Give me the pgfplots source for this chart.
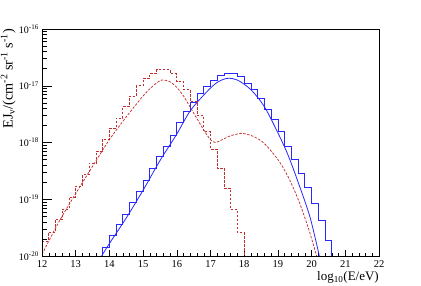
\documentclass[border=0pt]{standalone}
\usepackage{fontspec}
\setmainfont{Liberation Serif}
\usepackage{pgfplots}
\pgfplotsset{compat=1.18}
\definecolor{rblue}{RGB}{40,40,255}
\definecolor{rred}{RGB}{195,45,45}
\begin{document}
\begin{tikzpicture}
\path[use as bounding box] (0,0) rectangle (421pt,286pt);
\begin{axis}[
  at={(42pt,30pt)}, anchor=south west,
  scale only axis, width=337pt, height=227pt,
  xmin=12, xmax=22, ymode=log, log basis y=10,
  ymin=1e-20, ymax=1e-16,
  tick pos=left, tick align=inside,
  axis line style={line width=0.5pt},
  every tick/.style={black, line width=0.45pt},
  /pgf/number format/assume math mode=true,
  xtick={12,13,...,22}, minor x tick num=4,
  ytick=\empty,
  major tick length=6pt, minor tick length=3pt,
  xticklabel style={font=\fontsize{10.5}{12}\selectfont, inner sep=0pt, yshift=-4.5pt},
  xlabel={log\textsubscript{10}(E/eV)},
  xlabel style={at={(axis description cs:1,0)}, anchor=north east, inner sep=0pt, yshift=-15pt, font=\fontsize{13}{15}\selectfont},
]
% blue histogram
\addplot[rblue, const plot mark left, line width=0.8pt] coordinates {
(12.0,1e-20) (13.8,1.41e-20) (14.0,2.34e-20) (14.2,3.55e-20) (14.4,5.50e-20)
(14.6,8.91e-20) (14.8,1.35e-19) (15.0,2.19e-19) (15.2,3.55e-19) (15.4,5.62e-19)
(15.6,8.51e-19) (15.8,1.35e-18) (16.0,2.24e-18) (16.2,3.55e-18) (16.4,5.13e-18)
(16.6,7.24e-18) (16.8,9.55e-18) (17.0,1.26e-17) (17.2,1.55e-17) (17.4,1.66e-17)
(17.6,1.66e-17) (17.8,1.48e-17) (18.0,1.12e-17) (18.2,8.71e-18) (18.4,6.03e-18)
(18.6,3.89e-18) (18.8,2.51e-18) (19.0,1.55e-18) (19.2,8.71e-19) (19.4,5.01e-19)
(19.6,2.88e-19) (19.8,1.62e-19) (20.0,8.32e-20) (20.2,4.17e-20) (20.4,1.91e-20)
(20.6,1e-20)
};
% blue curve
\addplot[rblue, smooth, line width=0.8pt] coordinates {
(13.77,1.0e-20) (14.0,1.66e-20) (14.5,4.68e-20) (15.0,1.445e-19) (15.5,4.79e-19)
(16.0,1.41e-18) (16.4,3.63e-18) (16.9,7.94e-18) (17.2,1.148e-17) (17.5,1.35e-17)
(17.8,1.26e-17) (18.2,8.51e-18) (18.6,4.27e-18) (19.0,1.48e-18) (19.3,6.03e-19)
(19.6,2.0e-19) (19.95,4.90e-20) (20.23,1.0e-20)
};
% red histogram
\addplot[rred, const plot mark left, line width=0.8pt, dash pattern=on 2.5pt off 1.5pt] coordinates {
(12.0,1.82e-20) (12.2,2.63e-20) (12.4,4.47e-20) (12.6,6.76e-20) (12.8,1.096e-19)
(13.0,1.70e-19) (13.2,2.69e-19) (13.4,4.37e-19) (13.6,6.92e-19) (13.8,1.15e-18)
(14.0,1.78e-18) (14.2,2.69e-18) (14.4,4.27e-18) (14.6,6.61e-18) (14.8,1.0e-17)
(15.0,1.35e-17) (15.2,1.66e-17) (15.4,1.91e-17) (15.6,1.91e-17) (15.8,1.62e-17)
(16.0,1.175e-17) (16.2,8.51e-18) (16.4,5.25e-18) (16.6,2.95e-18) (16.8,1.55e-18)
(17.0,7.59e-19) (17.2,3.55e-19) (17.4,1.585e-19) (17.6,6.61e-20) (17.8,2.57e-20)
(18.0,1e-20) (22.0,1e-20)
};
% red curve
\addplot[rred, smooth, line width=0.75pt, dash pattern=on 2.5pt off 1.5pt] coordinates {
(12.0,1.07e-20) (12.5,3.98e-20) (13.0,1.259e-19) (13.5,3.80e-19) (14.0,1.122e-18)
(14.5,2.82e-18) (15.0,6.61e-18) (15.3,1.0e-17) (15.55,1.259e-17) (15.8,1.175e-17)
(16.0,9.33e-18) (16.2,6.61e-18) (16.4,4.17e-18) (16.6,2.63e-18) (16.8,1.66e-18)
(17.0,1.122e-18) (17.15,1.0e-18) (17.35,1.122e-18) (17.6,1.318e-18) (17.95,1.445e-18)
(18.3,1.259e-18) (18.6,9.55e-19) (19.0,5.01e-19) (19.3,2.51e-19) (19.6,1.0e-19)
(19.9,3.16e-20) (20.15,1.0e-20)
};
\end{axis}
\begin{axis}[
  at={(42pt,30pt)}, anchor=south west,
  scale only axis, width=337pt, height=227pt,
  xmin=12, xmax=22, ymode=log, log basis y=10,
  ymin=1e-20, ymax=1e-16,
  tick pos=left, tick align=inside,
  axis line style={line width=0.5pt},
  every tick/.style={black, line width=0.45pt},
  xtick=\empty,
  ytick={1e-20,1e-19,1e-18,1e-17,1e-16},
  yticklabels={10\textsuperscript{-20},10\textsuperscript{-19},10\textsuperscript{-18},10\textsuperscript{-17},10\textsuperscript{-16}},
  minor ytick={2e-20,3e-20,4e-20,5e-20,6e-20,7e-20,8e-20,9e-20,
               2e-19,3e-19,4e-19,5e-19,6e-19,7e-19,8e-19,9e-19,
               2e-18,3e-18,4e-18,5e-18,6e-18,7e-18,8e-18,9e-18,
               2e-17,3e-17,4e-17,5e-17,6e-17,7e-17,8e-17,9e-17},
  major tick length=10pt, minor tick length=5pt,
  yticklabel style={font=\fontsize{10}{12}\selectfont, inner sep=0pt, xshift=-3pt},
  ylabel={EJ\textsubscript{ν}/(cm\textsuperscript{-2} sr\textsuperscript{-1} s\textsuperscript{-1})},
  ylabel style={at={(axis description cs:-0.1,1)}, anchor=east, inner sep=0pt, font=\fontsize{14.2}{16}\selectfont},
]
\addplot[draw=none] coordinates {(12,1e-18)};
\end{axis}
\end{tikzpicture}
\end{document}
